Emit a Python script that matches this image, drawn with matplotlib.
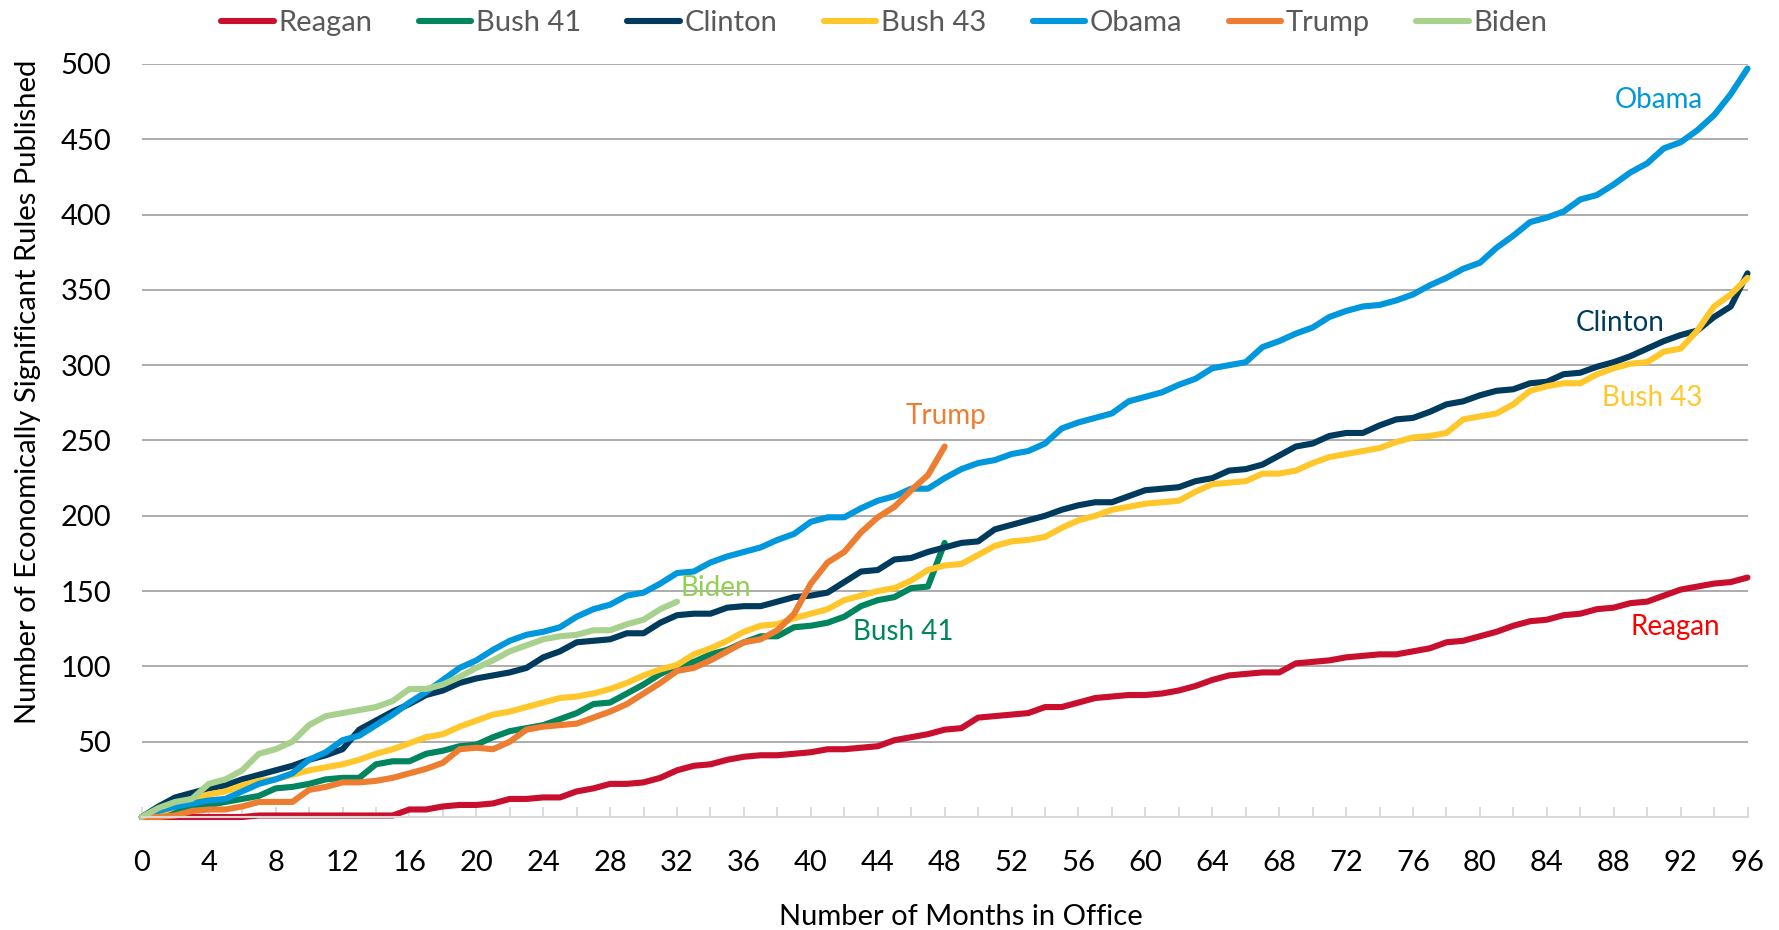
import numpy as np
import matplotlib
matplotlib.use("Agg")
import matplotlib.pyplot as plt

plt.rcParams['font.family'] = ['Lato', 'DejaVu Sans']

# cumulative economically significant rules, by month in office
months = np.arange(0, 97)

reagan = [0, 0, 0, 0, 0, 0, 0, 1, 1, 1, 1, 1, 1, 1, 1, 1,
          5, 5, 7, 8, 8, 9, 12, 12, 13, 13,
          17, 19, 22, 22, 23, 26, 31, 34, 35, 38,
          40, 41, 41, 42, 43, 45, 45, 46, 47, 51,
          53, 55, 58, 59, 66, 67, 68, 69, 73, 73,
          76, 79, 80, 81, 81, 82, 84, 87, 91, 94,
          95, 96, 96, 102, 103, 104, 106, 107, 108, 108,
          110, 112, 116, 117, 120, 123, 127, 130, 131, 134,
          135, 138, 139, 142, 143, 147, 151, 153, 155, 156,
          159]

bush41 = [0, 1, 5, 7, 8, 10, 12, 14, 19, 20,
          22, 25, 26, 26, 35, 37, 37, 42, 44, 47,
          48, 53, 57, 59, 61, 65, 69, 75, 76, 82,
          88, 95, 100, 103, 108, 111, 116, 120, 120, 126,
          127, 129, 133, 140, 144, 146, 152, 153, 182]

clinton = [0, 7, 13, 16, 19, 21, 25, 28, 31, 34,
           38, 41, 45, 58, 64, 70, 75, 81, 84, 89,
           92, 94, 96, 99, 106, 110, 116, 117, 118, 122,
           122, 129, 134, 135, 135, 139, 140, 140, 143, 146,
           147, 149, 156, 163, 164, 171, 172, 176, 179, 182,
           183, 191, 194, 197, 200, 204, 207, 209, 209, 213,
           217, 218, 219, 223, 225, 230, 231, 234, 240, 246,
           248, 253, 255, 255, 260, 264, 265, 269, 274, 276,
           280, 283, 284, 288, 289, 294, 295, 299, 302, 306,
           311, 316, 320, 323, 332, 339, 361]

bush43 = [0, 2, 7, 12, 15, 17, 21, 24, 25, 28,
          31, 33, 35, 38, 42, 45, 49, 53, 55, 60,
          64, 68, 70, 73, 76, 79, 80, 82, 85, 89,
          94, 98, 101, 108, 112, 117, 123, 127, 128, 132,
          135, 138, 144, 147, 150, 152, 157, 164, 167, 168,
          174, 180, 183, 184, 186, 192, 197, 200, 204, 206,
          208, 209, 210, 216, 221, 222, 223, 228, 228, 230,
          235, 239, 241, 243, 245, 249, 252, 253, 255, 264,
          266, 268, 274, 283, 286, 288, 288, 294, 298, 301,
          302, 309, 311, 323, 339, 347, 358]

obama = [0, 4, 7, 9, 11, 12, 17, 22, 25, 29,
         38, 43, 51, 54, 61, 68, 76, 83, 91, 99,
         104, 111, 117, 121, 123, 126, 133, 138, 141, 147,
         149, 155, 162, 163, 169, 173, 176, 179, 184, 188,
         196, 199, 199, 205, 210, 213, 218, 218, 225, 231,
         235, 237, 241, 243, 248, 258, 262, 265, 268, 276,
         279, 282, 287, 291, 298, 300, 302, 312, 316, 321,
         325, 332, 336, 339, 340, 343, 347, 353, 358, 364,
         368, 378, 386, 395, 398, 402, 410, 413, 420, 428,
         434, 444, 448, 456, 466, 480, 497]

trump = [0, 0, 1, 4, 5, 5, 7, 10, 10, 10,
         18, 20, 23, 23, 24, 26, 29, 32, 36, 45,
         46, 45, 50, 58, 60, 61, 62, 66, 70, 75,
         82, 89, 97, 99, 104, 110, 116, 118, 124, 135,
         155, 169, 176, 189, 199, 206, 217, 227, 246]

biden = [0, 6, 10, 12, 22, 25, 31, 42, 45, 50,
         61, 67, 69, 71, 73, 77, 85, 85, 88, 93,
         99, 104, 110, 114, 118, 120, 121, 124, 124, 128,
         131, 138, 143]

names = ["Reagan", "Bush 41", "Clinton", "Bush 43", "Obama", "Trump", "Biden"]
series = [reagan, bush41, clinton, bush43, obama, trump, biden]
colors = ["#C8102E", "#00855F", "#003A5D", "#FFC72C", "#0097DC", "#ED7D31", "#A9D18E"]

# direct labels: (month, value, text colour)
labels = {
    "Obama": (90.7, 476, "#0097DC"),
    "Clinton": (88.4, 328, "#003A5D"),
    "Bush 43": (90.3, 278, "#FFC72C"),
    "Reagan": (91.7, 126, "#FF0000"),
    "Trump": (48.1, 266, "#ED7D31"),
    "Biden": (34.3, 152, "#92D050"),
    "Bush 41": (45.5, 123, "#00855F"),
}

fig = plt.figure(figsize=(17.79, 9.30), dpi=100)
ax = fig.add_axes([0.0797, 0.1215, 0.9026, 0.8097])

for name, vals, c in zip(names, series, colors):
    ax.plot(months[:len(vals)], vals, color=c, lw=4.4, label=name,
            solid_joinstyle='round', solid_capstyle='round', clip_on=False)

for name, (x, y, c) in labels.items():
    ax.text(x, y, name, color=c, fontsize=20, ha='center', va='center')

ax.set_xlim(0, 96)
ax.set_ylim(0, 500)
ax.set_yticks(np.arange(50, 501, 50))
ax.set_xticks(np.arange(0, 97, 4))
ax.set_xticks(np.arange(0, 97, 2), minor=True)
ax.grid(axis='y', color='#A6A6A6', lw=1.3)
ax.set_axisbelow(True)

for s in ['top', 'right', 'left']:
    ax.spines[s].set_visible(False)
ax.spines['bottom'].set_color('#D9D9D9')
ax.spines['bottom'].set_linewidth(1.5)

ax.tick_params(axis='y', length=0, pad=22, labelsize=21)
ax.tick_params(axis='x', which='both', direction='in', length=7,
               color='#D9D9D9', width=1.3, labelsize=21, pad=24)
ax.tick_params(axis='x', which='minor', labelbottom=False)

ax.set_xlabel("Number of Months in Office", fontsize=21)
ax.xaxis.set_label_coords(0.51, -0.116)
ax.set_ylabel("Number of Economically Significant Rules Published", fontsize=21)
ax.yaxis.set_label_coords(-0.063, 0.564)

fig.legend(loc='upper center', bbox_to_anchor=(0.497, 1.017), ncol=7, frameon=False,
           fontsize=21, handlelength=1.8, handletextpad=0.15, columnspacing=1.6,
           labelcolor='#595959')

fig.savefig("out.png", dpi=100)
